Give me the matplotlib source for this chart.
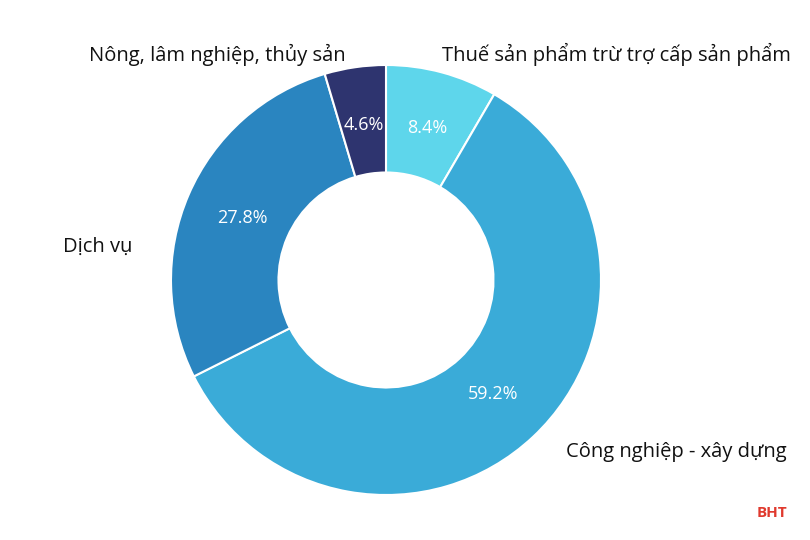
import matplotlib
matplotlib.use("Agg")
import matplotlib.pyplot as plt

labels = ["Thuế sản phẩm trừ trợ cấp sản phẩm", "Công nghiệp - xây dựng", "Dịch vụ", "Nông, lâm nghiệp, thủy sản"]
values = [8.4, 59.2, 27.8, 4.6]
colors = ["#5ED6EB", "#3AABD8", "#2A85C0", "#2E346F"]

plt.rcParams['font.family'] = ['Open Sans', 'DejaVu Sans']
fig = plt.figure(figsize=(8.1, 5.4), dpi=100)
ax = fig.add_axes([(386-215)/810, (540-280-215)/540, 430/810, 430/540])
wedges, texts, autotexts = ax.pie(values, colors=colors, startangle=90, counterclock=False,
       radius=1, autopct=lambda p: f"{p:.1f}%", pctdistance=0.73,
       wedgeprops=dict(width=0.5, edgecolor="white", linewidth=1.5),
       textprops=dict(color="white", fontsize=13))
ax.set_xlim(-1, 1); ax.set_ylim(-1, 1); ax.set_aspect("equal")
pos = [(1.074, 1.047), (1.349, -0.80), (-1.34, 0.153), (-0.786, 1.047)]
for lab, (x, y) in zip(labels, pos):
    ax.text(x, y, lab, ha="center", va="center", fontsize=14.5, color="#111111", clip_on=False)
fig.text(772/810, 1-513/540, "BHT", color="#E03A2E", fontsize=11, fontweight="bold", ha="center", va="center")
fig.savefig("out.png", dpi=100)
